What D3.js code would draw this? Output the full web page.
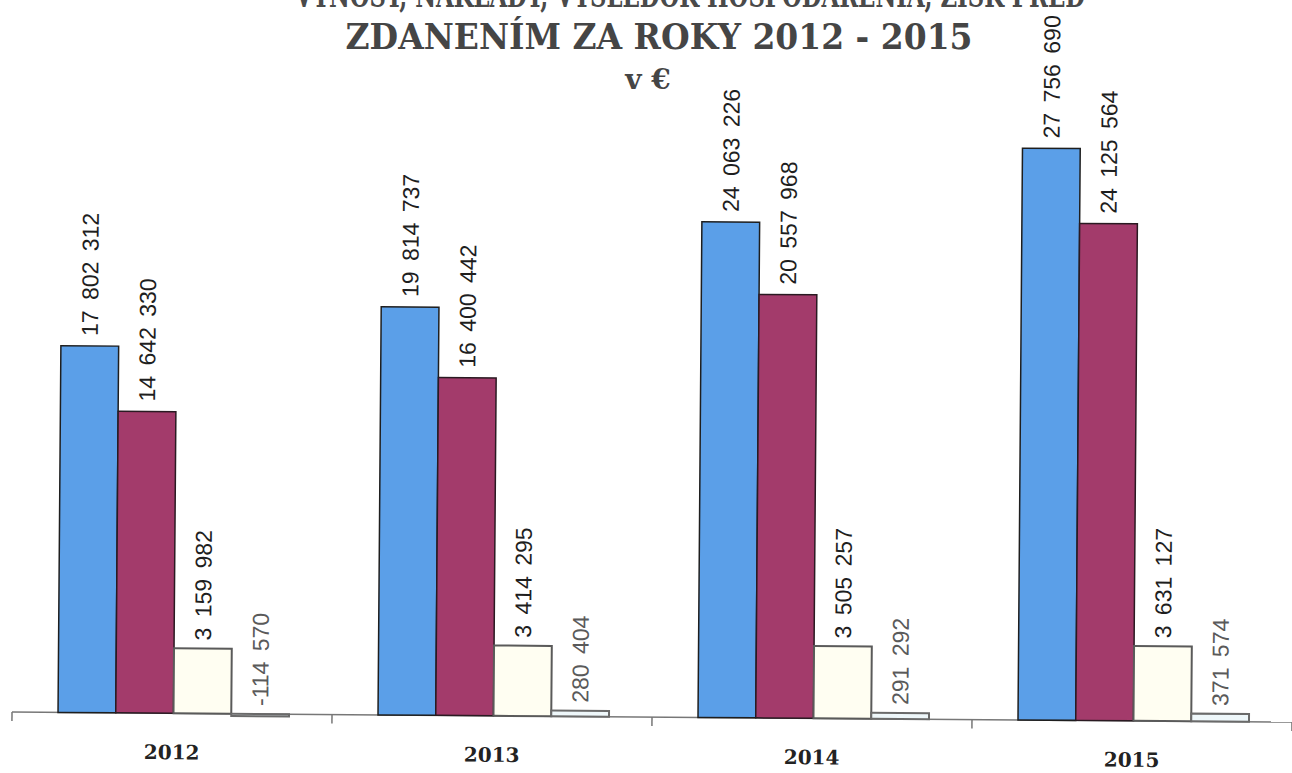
<!DOCTYPE html>
<html>
<head>
<meta charset="utf-8">
<script src="https://cdn.jsdelivr.net/npm/d3@7"></script>
<style>
  html, body { margin: 0; padding: 0; background: #fff; }
  svg { display: block; }
</style>
</head>
<body>
<svg id="chart" width="1292" height="773"></svg>
<script>
// ---- data ----
const titleTop = "VÝNOSY, NÁKLADY, VÝSLEDOK HOSPODÁRENIA, ZISK PRED";
const titleMain = "ZDANENÍM ZA ROKY 2012 - 2015";
const titleUnit = "v €";
const years = ["2012", "2013", "2014", "2015"];
const seriesNames = ["Výnosy", "Náklady", "Výsledok hospodárenia", "Daň"];
const vynosy   = [17802312, 19814737, 24063226, 27756690];
const naklady  = [14642330, 16400442, 20557968, 24125564];
const vysledok = [3159982, 3414295, 3505257, 3631127];
const dan      = [-114570, 280404, 291292, 371574];
const seriesValues = [vynosy, naklady, vysledok, dan];

// ---- styles ----
const fills   = ["#5b9fe8", "#a33b6b", "#fffef2", "#eef7fa"];
const strokes = ["#1e1e1e", "#2a1a22", "#5a5a5a", "#6a6a6a"];
const labelColors = ["#1e1e1e", "#1e1e1e", "#1e1e1e", "#5a5a5a"];

const svg = d3.select("#chart");
const baseY = 717;

// titles
svg.append("text")
  .attr("x", 690).attr("y", 7)
  .attr("text-anchor", "middle")
  .attr("font-family", "DejaVu Serif").attr("font-weight", "bold")
  .attr("font-size", 34).attr("fill", "#4a4a4a")
  .attr("textLength", 790).attr("lengthAdjust", "spacingAndGlyphs")
  .text(titleTop);
svg.append("text")
  .attr("x", 659).attr("y", 49)
  .attr("text-anchor", "middle")
  .attr("font-family", "DejaVu Serif").attr("font-weight", "bold")
  .attr("font-size", 35).attr("fill", "#454545")
  .attr("textLength", 627).attr("lengthAdjust", "spacingAndGlyphs")
  .text(titleMain);
svg.append("text")
  .attr("x", 648).attr("y", 89)
  .attr("text-anchor", "middle")
  .attr("font-family", "DejaVu Serif").attr("font-weight", "bold")
  .attr("font-size", 28).attr("fill", "#454545")
  .text(titleUnit);

// chart group (slight scan tilt)
const g = svg.append("g").attr("transform", `rotate(0.45, 646, ${baseY})`);

const x0 = d3.scaleBand().domain(years).range([12, 1292]).paddingInner(0).paddingOuter(0);
const x1 = d3.scaleBand().domain(d3.range(seriesNames.length))
  .range([46, x0.bandwidth() - 43]).paddingInner(0);
const y = d3.scaleLinear().domain([0, 30000000]).range([baseY, baseY - 618]);

const fmt = v => d3.format(",")(v).replace(/,/g, " ").replace("\u2212", "-");

// axis line + boundary ticks
g.append("line")
  .attr("x1", x0.range()[0]).attr("x2", x0.range()[1])
  .attr("y1", y(0)).attr("y2", y(0))
  .attr("stroke", "#777").attr("stroke-width", 1.5);
const tickXs = years.map(d => x0(d)).concat([x0.range()[1]]);
g.selectAll("line.tick").data(tickXs).join("line")
  .attr("class", "tick")
  .attr("x1", d => d).attr("x2", d => d)
  .attr("y1", y(0)).attr("y2", y(0) + 9)
  .attr("stroke", "#777").attr("stroke-width", 1.5);

// year labels
g.selectAll("text.year").data(years).join("text")
  .attr("class", "year")
  .attr("x", d => x0(d) + x0.bandwidth() / 2)
  .attr("y", y(0) + 46)
  .attr("text-anchor", "middle")
  .attr("font-family", "DejaVu Serif").attr("font-weight", "bold")
  .attr("font-size", 20).attr("fill", "#222")
  .text(d => d);

// bars
const cells = [];
years.forEach((yr, i) => {
  seriesValues.forEach((vals, s) => cells.push({ yr, s, v: vals[i] }));
});

const groups = g.selectAll("g.cat").data(years).join("g")
  .attr("class", "cat")
  .attr("transform", d => `translate(${x0(d)},0)`);

groups.selectAll("rect").data(yr => cells.filter(c => c.yr === yr)).join("rect")
  .attr("x", d => x1(d.s))
  .attr("width", x1.bandwidth())
  .attr("y", d => Math.min(y(d.v), y(0)))
  .attr("height", d => Math.max(Math.abs(y(d.v) - y(0)), 1))
  .attr("fill", d => fills[d.s])
  .attr("stroke", d => strokes[d.s])
  .attr("stroke-width", d => d.s < 2 ? 1.5 : 2);

// value labels (rotated)
groups.selectAll("text.val").data(yr => cells.filter(c => c.yr === yr)).join("text")
  .attr("class", "val")
  .attr("transform", d => {
    const cx = x1(d.s) + x1.bandwidth() / 2 + 8;
    const ty = Math.min(y(d.v), y(0)) - (d.s < 2 ? 10 : 8);
    return `translate(${cx},${ty}) rotate(-90)`;
  })
  .attr("text-anchor", "start")
  .attr("font-family", "Liberation Sans, Arial, sans-serif")
  .attr("font-size", 23)
  .attr("word-spacing", 4)
  .attr("fill", d => labelColors[d.s])
  .text(d => fmt(d.v));
</script>
</body>
</html>
